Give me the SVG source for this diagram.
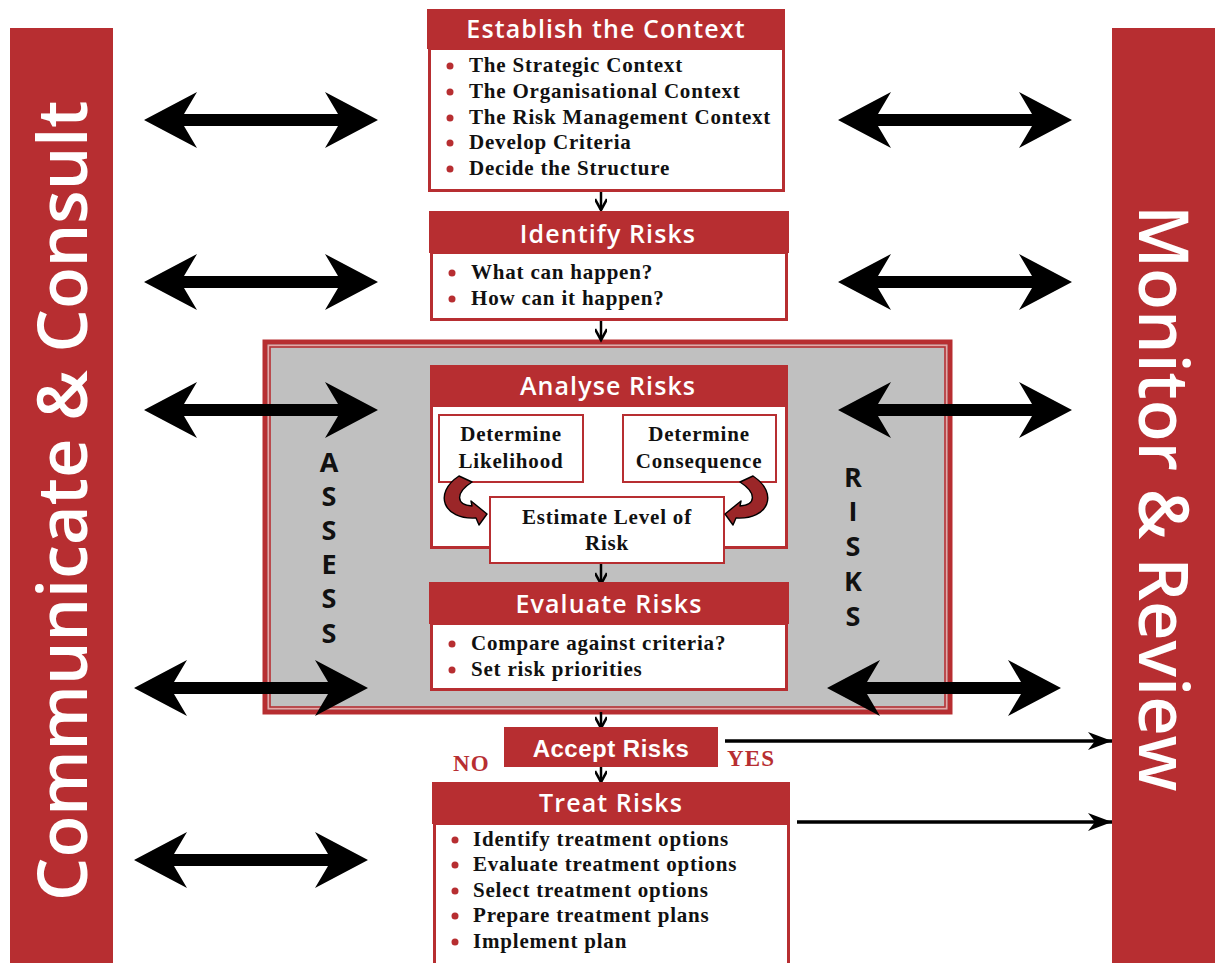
<svg xmlns="http://www.w3.org/2000/svg" width="1215" height="963" viewBox="0 0 1215 963">
  <style>
    .bar { fill: #b72e31; }
    .bartext { font-family: "Open Sans", "DejaVu Sans", sans-serif; font-weight: 600; font-size: 68.5px; fill: #ffffff; }
    .hdr { fill: #b72e31; }
    .hdrtext { font-family: "Open Sans", "DejaVu Sans", sans-serif; font-weight: 600; font-size: 25px; fill: #ffffff; text-anchor: middle; letter-spacing: 1.1px; }
    .body { fill: #ffffff; stroke: #b72e31; stroke-width: 3; }
    .sub { fill: #ffffff; stroke: #b72e31; stroke-width: 2; }
    .item { font-family: "Liberation Serif", "DejaVu Serif", serif; font-weight: bold; font-size: 21px; fill: #111111; letter-spacing: 0.8px; }
    .ctr { text-anchor: middle; }
    .dot { fill: #b72e31; }
    .side { font-family: "Open Sans", "DejaVu Sans", sans-serif; font-weight: 700; font-size: 27px; fill: #111111; text-anchor: middle; }
    .yesno { font-family: "Liberation Serif", "DejaVu Serif", serif; font-weight: bold; font-size: 23px; fill: #b72e31; letter-spacing: 1.2px; }
    .flow { stroke: #000000; stroke-width: 2.5; fill: none; }
    .link { stroke: #000000; stroke-width: 3.5; fill: none; }
    .curl { fill: #9b2628; stroke: #000000; stroke-width: 1.4; stroke-linejoin: round; }
  </style>
  <defs>
    <!-- wide black double-headed arrow, 234 long, drawn from its left tip -->
    <path id="dbl" d="M0,0 L53,-28 L40,-6 L194,-6 L181,-28 L234,0 L181,28 L194,6 L40,6 L53,28 Z" fill="#000000"/>
    <marker id="chev" markerWidth="16" markerHeight="12" refX="13" refY="6" orient="auto" markerUnits="userSpaceOnUse">
      <path d="M2,0 L13,6 L2,12" fill="none" stroke="#000000" stroke-width="2.6"/>
    </marker>
    <marker id="tip" markerWidth="26" markerHeight="20" refX="24" refY="10" orient="auto" markerUnits="userSpaceOnUse">
      <path d="M0,1 L24,10 L0,19 L7,10 Z" fill="#000000"/>
    </marker>
    <!-- curled feed arrow, left-hand version -->
    <path id="curl" d="M459,476 L472,482 C455,493 456,505 472,506 L471,501 L487,514 L479,525 L476,518 C443,520 433,493 459,476 Z"/>
  </defs>

  <rect width="1215" height="963" fill="#ffffff"/>

  <!-- side bars -->
  <g id="communicate">
    <rect class="bar" x="10" y="28" width="103" height="935"/>
    <text class="bartext" transform="translate(87,901) rotate(-90)">Communicate &amp; Consult</text>
  </g>
  <g id="monitor">
    <rect class="bar" x="1112" y="28" width="103" height="935"/>
    <text class="bartext" transform="translate(1139,205) rotate(90)">Monitor &amp; Review</text>
  </g>

  <!-- assessment frame -->
  <g id="assess">
    <rect x="265" y="342" width="685" height="370" fill="#c0c0c0" stroke="#b72e31" stroke-width="5"/>
    <rect x="268.5" y="345.5" width="678" height="363" fill="none" stroke="#e8a6a6" stroke-width="1"/>
    <rect x="270" y="347" width="675" height="360" fill="none" stroke="#b72e31" stroke-width="1.6"/>
    <g class="side">
      <text x="329" y="472">A</text>
      <text x="329" y="506">S</text>
      <text x="329" y="540">S</text>
      <text x="329" y="574">E</text>
      <text x="329" y="608">S</text>
      <text x="329" y="643">S</text>
      <text x="853" y="487">R</text>
      <text x="853" y="521">I</text>
      <text x="853" y="556">S</text>
      <text x="853" y="591">K</text>
      <text x="853" y="626">S</text>
    </g>
  </g>

  <!-- connectors -->
  <g id="connectors">
    <use href="#dbl" x="144" y="120"/>
    <use href="#dbl" x="838" y="120"/>
    <use href="#dbl" x="144" y="282"/>
    <use href="#dbl" x="838" y="282"/>
    <use href="#dbl" x="144" y="410"/>
    <use href="#dbl" x="838" y="410"/>
    <use href="#dbl" x="134" y="688"/>
    <use href="#dbl" x="827" y="688"/>
    <use href="#dbl" x="134" y="860"/>

    <line class="flow" x1="601" y1="191" x2="601" y2="210" marker-end="url(#chev)"/>
    <line class="flow" x1="601" y1="321" x2="601" y2="340" marker-end="url(#chev)"/>
    <line class="flow" x1="601" y1="564" x2="601" y2="584" marker-end="url(#chev)"/>
    <line class="flow" x1="601" y1="712" x2="601" y2="728" marker-end="url(#chev)"/>
    <line class="flow" x1="601" y1="766" x2="601" y2="782" marker-end="url(#chev)"/>

    <line class="link" x1="725" y1="741" x2="1112" y2="741" marker-end="url(#tip)"/>
    <line class="link" x1="797" y1="822" x2="1112" y2="822" marker-end="url(#tip)"/>
  </g>

  <!-- process steps -->
  <g id="establish">
    <rect class="hdr" x="427" y="9" width="358" height="40"/>
    <text class="hdrtext" x="606" y="38">Establish the Context</text>
    <rect class="body" x="429.5" y="48.5" width="354" height="142"/>
    <circle class="dot" cx="450" cy="66" r="3.5"/>
    <circle class="dot" cx="450" cy="92" r="3.5"/>
    <circle class="dot" cx="450" cy="118" r="3.5"/>
    <circle class="dot" cx="450" cy="143" r="3.5"/>
    <circle class="dot" cx="450" cy="169" r="3.5"/>
    <text class="item" x="469" y="72">The Strategic Context</text>
    <text class="item" x="469" y="98">The Organisational Context</text>
    <text class="item" x="469" y="124">The Risk Management Context</text>
    <text class="item" x="469" y="149">Develop Criteria</text>
    <text class="item" x="469" y="175">Decide the Structure</text>
  </g>

  <g id="identify">
    <rect class="hdr" x="429" y="211" width="360" height="42"/>
    <text class="hdrtext" x="608" y="243">Identify Risks</text>
    <rect class="body" x="431.5" y="252.5" width="355" height="67"/>
    <circle class="dot" cx="452" cy="273" r="3.5"/>
    <circle class="dot" cx="452" cy="299" r="3.5"/>
    <text class="item" x="471" y="279">What can happen?</text>
    <text class="item" x="471" y="305">How can it happen?</text>
  </g>

  <g id="analyse">
    <rect class="hdr" x="430" y="365" width="358" height="41"/>
    <text class="hdrtext" x="608" y="395">Analyse Risks</text>
    <rect class="body" x="431.5" y="405.5" width="355" height="142"/>
    <g id="likelihood">
      <rect class="sub" x="439" y="415" width="144" height="67"/>
      <text class="item ctr" x="511" y="441">Determine</text>
      <text class="item ctr" x="511" y="468">Likelihood</text>
    </g>
    <g id="consequence">
      <rect class="sub" x="623" y="415" width="153" height="67"/>
      <text class="item ctr" x="699" y="441">Determine</text>
      <text class="item ctr" x="699" y="468">Consequence</text>
    </g>
    <g id="estimate">
      <rect class="sub" x="490" y="497" width="234" height="66"/>
      <text class="item ctr" x="607" y="524">Estimate Level of</text>
      <text class="item ctr" x="607" y="550">Risk</text>
    </g>
    <!-- curled feed arrows into the estimate box -->
    <use href="#curl" class="curl"/>
    <use href="#curl" class="curl" transform="translate(1212,0) scale(-1,1)"/>
  </g>

  <g id="evaluate">
    <rect class="hdr" x="429" y="582" width="360" height="42"/>
    <text class="hdrtext" x="609" y="613">Evaluate Risks</text>
    <rect class="body" x="431.5" y="623.5" width="355" height="66"/>
    <circle class="dot" cx="452" cy="644" r="3.5"/>
    <circle class="dot" cx="452" cy="670" r="3.5"/>
    <text class="item" x="471" y="650">Compare against criteria?</text>
    <text class="item" x="471" y="676">Set risk priorities</text>
  </g>

  <g id="accept">
    <rect class="hdr" x="504" y="727" width="214" height="40"/>
    <text x="611" y="757" font-family="Liberation Sans, Arial, sans-serif" font-weight="bold" font-size="24" fill="#ffffff" text-anchor="middle" letter-spacing="0.5">Accept Risks</text>
    <text class="yesno" x="453" y="771">NO</text>
    <text class="yesno" x="727" y="766">YES</text>
  </g>

  <g id="treat">
    <rect class="hdr" x="432" y="782" width="358" height="42"/>
    <text class="hdrtext" x="611" y="812">Treat Risks</text>
    <rect class="body" x="434.5" y="823.5" width="354" height="145"/>
    <circle class="dot" cx="455" cy="840" r="3.5"/>
    <circle class="dot" cx="455" cy="865" r="3.5"/>
    <circle class="dot" cx="455" cy="891" r="3.5"/>
    <circle class="dot" cx="455" cy="916" r="3.5"/>
    <circle class="dot" cx="455" cy="942" r="3.5"/>
    <text class="item" x="473" y="846">Identify treatment options</text>
    <text class="item" x="473" y="871">Evaluate treatment options</text>
    <text class="item" x="473" y="897">Select treatment options</text>
    <text class="item" x="473" y="922">Prepare treatment plans</text>
    <text class="item" x="473" y="948">Implement plan</text>
  </g>
</svg>
